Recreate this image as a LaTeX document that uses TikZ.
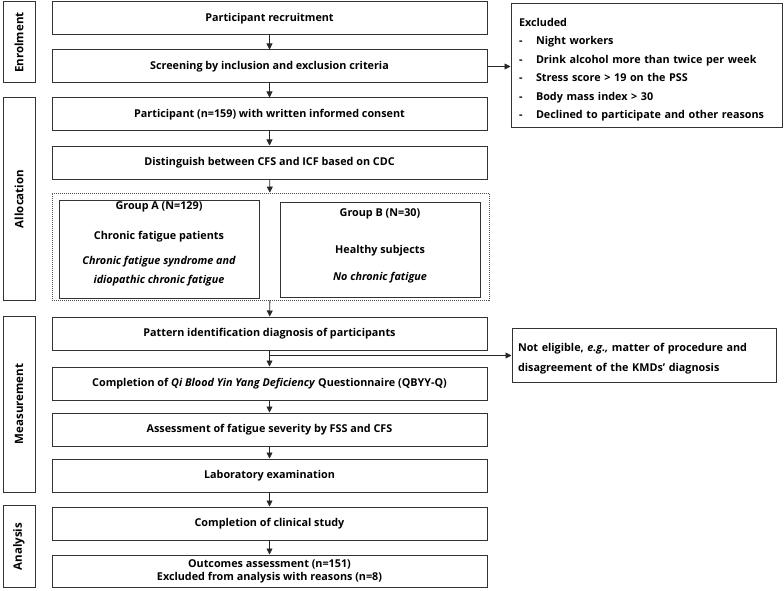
\documentclass[tikz,border=0pt]{standalone}
\usepackage{fontspec}
\newfontfamily\flowfont{Open Sans}
\usetikzlibrary{arrows.meta}

\tikzset{
  box/.style={draw=black!80, line width=1pt, minimum width=435pt, minimum height=33pt,
    inner sep=2pt, align=center, font=\flowfont\bfseries\fontsize{10.8}{13}\selectfont},
  sidebox/.style={box, rotate=90, minimum height=32pt, font=\flowfont\bfseries\fontsize{11.5}{13}\selectfont},
  flow/.style={line width=0.8pt, black!85, -{Triangle[length=6pt,width=6pt]}},
}

\begin{document}
\begin{tikzpicture}[x=1pt,y=-1pt]
\useasboundingbox (0,0) rectangle (784,591);
% stages
\node[sidebox, minimum width=81pt] (enr) at (19,42.5) {Enrolment};
\node[sidebox, minimum width=202pt] (all) at (19,199) {Allocation};
\node[sidebox, minimum width=176pt] (mea) at (19,404) {Measurement};
\node[sidebox, minimum width=82pt] (ana) at (19,546.5) {Analysis};
% main flow
\node[box] (rec) at (269.5,18.5) {Participant recruitment};
\node[box] (scr) at (269.5,66.5) {Screening by inclusion and exclusion criteria};
\node[box] (con) at (269.5,114.5) {Participant (n=159) with written informed consent};
\node[box] (dis) at (269.5,162.5) {Distinguish between CFS and ICF based on CDC};
\node[box, draw=black!70, densely dotted, line width=0.8pt, minimum width=437pt, minimum height=107pt] (grp) at (270.5,246.5) {};
\node[box, minimum width=200pt, minimum height=95pt, text depth=13pt] (grpa) at (159,249.5)
  {Group A (N=129)\\[17pt] Chronic fatigue patients\\[12pt] \itshape Chronic fatigue syndrome and\\[6pt] \itshape idiopathic chronic fatigue};
\node[box, minimum width=200pt, minimum height=95pt, text depth=10pt] (grpb) at (380,249.5)
  {Group B (N=30)\\[24pt] Healthy subjects\\[14pt] \itshape No chronic fatigue};
\node[box] (pat) at (269.5,333.5) {Pattern identification diagnosis of participants};
\node[box] (qby) at (269.5,383.5) {Completion of \textit{Qi Blood Yin Yang Deficiency} Questionnaire (QBYY-Q)};
\node[box] (fss) at (269.5,429.5) {Assessment of fatigue severity by FSS and CFS};
\node[box] (lab) at (269.5,475.5) {Laboratory examination};
\node[box] (cli) at (269.5,523.5) {Completion of clinical study};
\node[box, minimum height=32pt] (out) at (269.5,571)
  {Outcomes assessment (n=151)\\ Excluded from analysis with reasons (n=8)};
% side boxes
\node[box, minimum width=271pt, minimum height=124pt, align=left, text width=255pt, text height=16pt,
  font=\flowfont\bfseries\fontsize{10.8}{18.5}\selectfont] (exc) at (646.5,66)
  {Excluded\\
   \makebox[17pt][l]{-}Night workers\\
   \makebox[17pt][l]{-}Drink alcohol more than twice per week\\
   \makebox[17pt][l]{-}Stress score > 19 on the PSS\\
   \makebox[17pt][l]{-}Body mass index > 30\\
   \makebox[17pt][l]{-}Declined to participate and other reasons};
\node[box, minimum width=264pt, minimum height=54pt, align=left, text width=252pt, text height=16pt,
  font=\flowfont\bfseries\fontsize{10.8}{20}\selectfont] (nel) at (644,355)
  {Not eligible, \textit{e.g.,} matter of procedure and\\ disagreement of the KMDs’ diagnosis};
% connectors
\foreach \a/\b in {rec/scr,scr/con,con/dis,dis/grp,grp/pat,pat/qby,qby/fss,fss/lab,lab/cli,cli/out}
  \draw[flow] (\a) -- (\b);
\draw[flow] (scr.east) -- (scr.east -| exc.west);
\coordinate (br) at ([yshift=-5pt]pat.south);
\draw[flow] (br) -- (br -| nel.west);
\end{tikzpicture}
\end{document}
